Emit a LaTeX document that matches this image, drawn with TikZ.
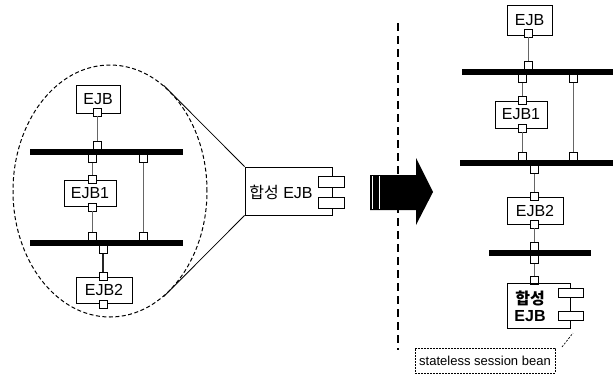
\documentclass[tikz,border=0pt]{standalone}
\usepackage{fontspec}
\setmainfont{Liberation Sans}
\newfontfamily\krfont{Noto Sans CJK KR}
\usetikzlibrary{shapes.geometric}
\begin{document}
\begin{tikzpicture}[x=1pt,y=-1pt,
  box/.style={draw, line width=0.9pt, inner sep=0pt, font=\fontsize{16}{16}\selectfont},
  port/.style={draw, fill=white, line width=0.8pt, minimum size=8pt, inner sep=0pt},
  bus/.style={fill=black, inner sep=0pt, minimum height=5.5pt},
  wire/.style={line width=0.8pt, draw=black!60},
  slot/.style={draw, fill=white, line width=0.8pt, inner sep=0pt},
  zoomline/.style={line width=0.8pt},
  divider/.style={line width=2.4pt, dash pattern=on 8pt off 5pt},
  comptext/.style={font=\fontsize{16}{16}\selectfont}]
\useasboundingbox (0,0) rectangle (616,376);

% ---------- left: the group of beans inside the dashed ellipse ----------
\node[draw, line width=1pt, dash pattern=on 4pt off 2.5pt, ellipse, minimum width=194pt, minimum height=252pt, inner sep=0pt] (ell) at (110,191) {};

\node[box, minimum width=44pt, minimum height=28pt] (lejb) at (98,99) {EJB};
\node[box, minimum width=52pt, minimum height=26pt] (lejb1) at (90,193) {EJB1};
\node[box, minimum width=56pt, minimum height=26pt] (lejb2) at (104,290) {EJB2};

\node[bus, minimum width=153pt] (lbus1) at (106.5,152) {};
\node[bus, minimum width=153pt] (lbus2) at (106.5,243) {};

\node[port] (la) at (97,112) {};
\node[port] (lb) at (97,145.5) {};
\node[port] (lc) at (92,158.5) {};
\node[port] (ld) at (143,158.5) {};
\node[port] (le) at (92,179) {};
\node[port] (lf) at (92,207) {};
\node[port] (lg) at (92,236.5) {};
\node[port] (lh) at (143,236.5) {};
\node[port] (li) at (103,249.5) {};
\node[port] (lj) at (103,276) {};
\node[port] (lk) at (103,304) {};

\draw[wire] (la) -- (lb);
\draw[wire] (lc) -- (le);
\draw[wire] (lf) -- (lg);
\draw[wire] (ld) -- (lh);
\draw[wire, line width=1.2pt, draw=black!85] (li) -- (lj);

% ---------- composite bean ----------
\node[box, minimum width=87pt, minimum height=48pt] (comp) at (288.5,191) {};
\node[comptext] (comptxt) at (281,192) {{\krfont 합성} EJB};
\node[slot, minimum width=26pt, minimum height=11pt] (cs1) at (331,181.5) {};
\node[slot, minimum width=26pt, minimum height=11pt] (cs2) at (331,202.5) {};

\draw[zoomline] (ell.63) -- (comp.north west);
\draw[zoomline] (ell.-63) -- (comp.south west);

% ---------- divider and transformation arrow ----------
\coordinate (dtop) at (398,23);
\coordinate (dbot) at (398,350);
\draw[divider] (dtop) -- (dbot);

\fill (370,175) -- (416,175) -- (416,158) -- (433,192) -- (416,225) -- (416,210) -- (370,210) -- cycle;
\draw[white, line width=0.5pt] (372.5,176) -- (372.5,209);
\draw[white, line width=0.5pt] (379,176) -- (379,209);

% ---------- right: the transformed structure ----------
\node[box, minimum width=45pt, minimum height=30pt] (rejb) at (529.5,20) {EJB};
\node[box, minimum width=52pt, minimum height=27pt] (rejb1) at (521,114.5) {EJB1};
\node[box, minimum width=56pt, minimum height=27pt] (rejb2) at (535,210.5) {EJB2};

\node[bus, minimum width=151pt] (rbus1) at (537.5,72) {};
\node[bus, minimum width=153pt] (rbus2) at (536.5,163) {};
\node[bus, minimum width=102pt] (rbus3) at (540,253) {};

\node[port] (ra) at (528,33) {};
\node[port] (rb) at (528,65.5) {};
\node[port] (rc) at (522,78.5) {};
\node[port] (rd) at (573,78.5) {};
\node[port] (re) at (522,100) {};
\node[port] (rf) at (522,128) {};
\node[port] (rg) at (522,156.5) {};
\node[port] (rh) at (573,156.5) {};
\node[port] (ri) at (534,169.5) {};
\node[port] (rj) at (534,196) {};
\node[port] (rk) at (534,224) {};
\node[port] (rl) at (534,246.5) {};
\node[port] (rm) at (534,259.5) {};
\node[port] (rn) at (534,280) {};

\draw[wire] (ra) -- (rb);
\draw[wire] (rc) -- (re);
\draw[wire] (rf) -- (rg);
\draw[wire] (rd) -- (rh);
\draw[wire] (ri) -- (rj);
\draw[wire] (rk) -- (rl);
\draw[wire] (rm) -- (rn);

\node[box, minimum width=63pt, minimum height=45pt] (rcomp) at (538.5,305.5) {};
\node[comptext, font=\fontsize{16}{16}\selectfont\bfseries, align=center, inner sep=0pt] (rcomptxt) at (530,306) {{\krfont 합성}\\[1pt]EJB};
\node[slot, minimum width=25pt, minimum height=9pt] (rs1) at (570.5,292.5) {};
\node[slot, minimum width=25pt, minimum height=9pt] (rs2) at (570.5,315.5) {};

% ---------- note ----------
\node[draw, line width=0.8pt, dash pattern=on 2pt off 1pt, minimum width=140pt, minimum height=25pt, inner sep=0pt, font=\fontsize{13}{13}\selectfont] (note) at (485,360.5) {stateless session bean};
\coordinate (nfrom) at (562,347);
\coordinate (nto) at (573,333);
\draw[line width=0.7pt, dash pattern=on 2pt off 1.5pt] (nfrom) -- (nto);
\end{tikzpicture}
\end{document}
